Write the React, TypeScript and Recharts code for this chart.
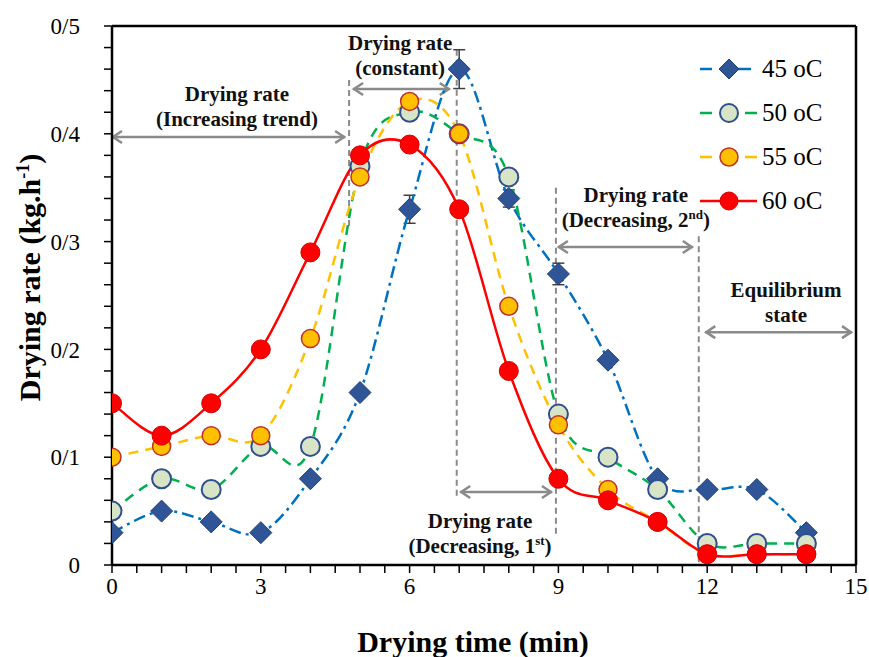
import React from 'react';
import { ComposedChart, Line, XAxis, YAxis, ReferenceLine, ReferenceDot, ErrorBar, Legend, Label } from 'recharts';

// ---------- data ----------
const times = [0, 1, 2, 3, 4, 5, 6, 7, 8, 9, 10, 11, 12, 13, 14];
const rate45 = [0.03, 0.05, 0.04, 0.03, 0.08, 0.16, 0.33, 0.46, 0.34, 0.27, 0.19, 0.08, 0.07, 0.07, 0.03];
const err45 = [0, 0, 0, 0, 0, 0, 0.013, 0.018, 0.008, 0.01, 0, 0, 0, 0, 0];
const rate50 = [0.05, 0.08, 0.07, 0.11, 0.11, 0.37, 0.42, 0.40, 0.36, 0.14, 0.10, 0.07, 0.02, 0.02, 0.02];
const rate55 = [0.10, 0.11, 0.12, 0.12, 0.21, 0.36, 0.43, 0.40, 0.24, 0.13, 0.07, 0.04, 0.01, 0.01, 0.01];
const rate60 = [0.15, 0.12, 0.15, 0.20, 0.29, 0.38, 0.39, 0.33, 0.18, 0.08, 0.06, 0.04, 0.01, 0.01, 0.01];
const seriesNames = ['45 oC', '50 oC', '55 oC', '60 oC'];

const xTicks = [0, 0.5, 1, 1.5, 2, 2.5, 3, 3.5, 4, 4.5, 5, 5.5, 6, 6.5, 7, 7.5, 8, 8.5, 9, 9.5, 10, 10.5, 11, 11.5, 12, 12.5, 13, 13.5, 14, 14.5, 15];
const xTickLabels = [0, 3, 6, 9, 12, 15];
const yTicks = [0, 0.02, 0.04, 0.06, 0.08, 0.1, 0.12, 0.14, 0.16, 0.18, 0.2, 0.22, 0.24, 0.26, 0.28, 0.3, 0.32, 0.34, 0.36, 0.38, 0.4, 0.42, 0.44, 0.46, 0.48, 0.5];
const yMajorTicks = [0, 0.1, 0.2, 0.3, 0.4, 0.5];
const yTickLabels = ['0', '0/1', '0/2', '0/3', '0/4', '0/5'];

// phase boundaries (dashed verticals)
const boundX = [4.78, 6.95, 8.95, 11.83];
const boundTop = [0.45, 0.478, 0.35, 0.305];
const boundBottom = [0.313, 0.063, 0.026, 0];

// double-headed arrows
const arrowY = [0.397, 0.4416, 0.0677, 0.295, 0.216];
const arrowFrom = [0, 4.86, 7.02, 8.99, 11.96];
const arrowTo = [4.70, 6.81, 8.87, 11.71, 14.92];

// annotation texts
const annX = [2.52, 5.81, 7.42, 10.56, 13.59];
const annY = [0.4304, 0.4777, 0.0343, 0.3367, 0.2486];
const annLine1 = ['Drying rate', 'Drying rate', 'Drying rate', 'Drying rate', 'Equilibrium'];
const annLine2 = ['(Increasing trend)', '(constant)', '(Decreasing, 1', '(Decreasing, 2', 'state'];
const annSup = ['', '', 'st', 'nd', ''];

const data = times.map((t, i) => ({
  t,
  s45: rate45[i],
  e45: err45[i],
  s50: rate50[i],
  s55: rate55[i],
  s60: rate60[i],
}));

// ---------- styles ----------
const FONT = '"Liberation Serif", "Times New Roman", serif';
const C45 = '#0070C0';
const C50 = '#00B050';
const C55 = '#FFC000';
const C60 = '#FF0000';
const GRAY = '#8a8a8a';

// Catmull-Rom style smoothing (Excel-like smoothed line)
const smoothCurve: any = (context: any) => {
  let pts: number[][] = [];
  return {
    areaStart() {},
    areaEnd() {},
    lineStart() { pts = []; },
    lineEnd() {
      const n = pts.length;
      if (!n) return;
      context.moveTo(pts[0][0], pts[0][1]);
      for (let i = 0; i < n - 1; i++) {
        const p0 = pts[Math.max(i - 1, 0)];
        const p1 = pts[i];
        const p2 = pts[i + 1];
        const p3 = pts[Math.min(i + 2, n - 1)];
        context.bezierCurveTo(
          p1[0] + (p2[0] - p0[0]) / 6, p1[1] + (p2[1] - p0[1]) / 6,
          p2[0] - (p3[0] - p1[0]) / 6, p2[1] - (p3[1] - p1[1]) / 6,
          p2[0], p2[1]
        );
      }
    },
    point(x: number, y: number) { pts.push([+x, +y]); },
  };
};

const Diamond = (p: any) => {
  const { cx, cy } = p;
  if (cx == null || cy == null) return <g key={p.key} />;
  const r = 11;
  return (
    <path key={p.key} d={`M${cx},${cy - r}L${cx + r},${cy}L${cx},${cy + r}L${cx - r},${cy}Z`} fill="#2F5597" stroke="#203F73" strokeWidth={1} />
  );
};
const makeCircle = (fill: string, stroke: string, r: number, sw: number) => (p: any) => {
  const { cx, cy } = p;
  if (cx == null || cy == null) return <g key={p.key} />;
  return <circle key={p.key} cx={cx} cy={cy} r={r} fill={fill} stroke={stroke} strokeWidth={sw} />;
};
const Dot50 = makeCircle('#D8E4C6', '#2F4F8F', 9.5, 2);
const Dot55 = makeCircle('#FFC000', '#C0302A', 9, 1.5);
const Dot60 = makeCircle('#FF0000', '#D80000', 9.5, 1);

const ArrowShape = (p: any) => {
  const { x1, y1, x2, y2 } = p;
  const h = 10, w = 6;
  const left = Math.min(x1, x2), right = Math.max(x1, x2);
  return (
    <g>
      <line x1={left} y1={y1} x2={right} y2={y2} stroke={GRAY} strokeWidth={2.5} />
      <polyline points={`${left + h},${y1 - w} ${left + 1},${y1} ${left + h},${y1 + w}`} fill="none" stroke={GRAY} strokeWidth={2.5} />
      <polyline points={`${right - h},${y2 - w} ${right - 1},${y2} ${right - h},${y2 + w}`} fill="none" stroke={GRAY} strokeWidth={2.5} />
    </g>
  );
};

const makeAnnotation = (i: number) => (p: any) => {
  const { cx, cy } = p;
  if (cx == null || cy == null) return <g />;
  return (
    <text x={cx} y={cy} textAnchor="middle" fontFamily={FONT} fontWeight="bold" fontSize={21} fill="#111">
      <tspan x={cx} y={cy}>{annLine1[i]}</tspan>
      <tspan x={cx} y={cy + 25}>
        {annLine2[i]}
        {annSup[i] ? <tspan dy={-8} fontSize={13}>{annSup[i]}</tspan> : null}
        {annSup[i] ? <tspan dy={8}>)</tspan> : null}
      </tspan>
    </text>
  );
};

const legendItems = [
  { name: seriesNames[0], color: C45, dash: '12 8 3 5 200', marker: 'diamond' },
  { name: seriesNames[1], color: C50, dash: '12 33 12', marker: 'c50' },
  { name: seriesNames[2], color: C55, dash: '12 33 12', marker: 'c55' },
  { name: seriesNames[3], color: C60, dash: undefined, marker: 'c60' },
];

const LegendContent = () => (
  <svg width={170} height={190} style={{ display: 'block' }}>
    {legendItems.map((it, i) => {
      const cy = 24 + i * 44;
      let marker: any = null;
      if (it.marker === 'diamond') marker = <path d={`M34,${cy - 10}L44,${cy}L34,${cy + 10}L24,${cy}Z`} fill="#2F5597" stroke="#203F73" strokeWidth={1} />;
      if (it.marker === 'c50') marker = <circle cx={34} cy={cy} r={9} fill="#D8E4C6" stroke="#2F4F8F" strokeWidth={2} />;
      if (it.marker === 'c55') marker = <circle cx={34} cy={cy} r={9} fill="#FFC000" stroke="#C0302A" strokeWidth={1.5} />;
      if (it.marker === 'c60') marker = <circle cx={34} cy={cy} r={9} fill="#FF0000" stroke="#D80000" strokeWidth={1} />;
      return (
        <g key={it.name}>
          {it.marker === 'diamond' ? (
            <>
              <line x1={5} y1={cy} x2={17} y2={cy} stroke={it.color} strokeWidth={2.5} />
              <line x1={40} y1={cy} x2={56} y2={cy} stroke={it.color} strokeWidth={2.5} />
            </>
          ) : (
            <line x1={5} y1={cy} x2={62} y2={cy} stroke={it.color} strokeWidth={2.5} strokeDasharray={it.dash} />
          )}
          {marker}
          <text x={67} y={cy + 8} fontFamily={FONT} fontSize={25} fill="#000">{it.name}</text>
        </g>
      );
    })}
  </svg>
);

const xTickFmt = (v: number) => (xTickLabels.some((m) => Math.abs(m - v) < 1e-9) ? String(v) : '');
const yTickFmt = (v: number) => {
  const idx = yMajorTicks.findIndex((m) => Math.abs(m - v) < 1e-9);
  return idx >= 0 ? yTickLabels[idx] : '';
};

const YTitle = (p: any) => {
  const vb = p.viewBox || { x: 0, y: 26, width: 112, height: 539 };
  const cx = vb.x + 40;
  const cy = vb.y + vb.height / 2 - 18;
  return (
    <text transform={`translate(${cx},${cy}) rotate(-90)`} textAnchor="middle" fontFamily={FONT} fontWeight="bold" fontSize={30} fill="#000">
      Drying rate (kg.h<tspan dy={-11} fontSize={18}>-1</tspan><tspan dy={11}>)</tspan>
    </text>
  );
};

const XTitle = (p: any) => {
  const vb = p.viewBox || { x: 112, y: 565, width: 744, height: 92 };
  const cx = vb.x + vb.width / 2 - 11;
  const cy = vb.y + 87;
  return (
    <text x={cx} y={cy} textAnchor="middle" fontFamily={FONT} fontWeight="bold" fontSize={30} fill="#000">
      Drying time (min)
    </text>
  );
};

export default function App() {
  const tickStyle = { fontFamily: FONT, fontSize: 23, fill: '#000' };
  return (
    <div style={{ position: 'absolute', left: 0, top: 0, width: 869, height: 657, background: '#fff' }}>
      <ComposedChart width={869} height={657} data={data} margin={{ top: 26, right: 13, bottom: 0, left: 0 }}>
        <XAxis
          dataKey="t"
          type="number"
          domain={[0, 15]}
          ticks={xTicks}
          interval={0}
          tickFormatter={xTickFmt}
          tick={tickStyle}
          tickSize={8}
          tickMargin={5}
          height={92}
          axisLine={{ stroke: '#000', strokeWidth: 2.5 }}
          tickLine={{ stroke: '#000', strokeWidth: 1.5 }}
          allowDataOverflow
        >
          <Label content={XTitle} />
        </XAxis>
        <YAxis
          type="number"
          domain={[0, 0.5]}
          ticks={yTicks}
          interval={0}
          tickFormatter={yTickFmt}
          tick={tickStyle}
          tickSize={8}
          tickMargin={24}
          width={112}
          axisLine={{ stroke: '#000', strokeWidth: 2.5 }}
          tickLine={{ stroke: '#000', strokeWidth: 1.5 }}
          allowDataOverflow
        >
          <Label content={YTitle} />
        </YAxis>

        <ReferenceLine y={0.5} stroke="#000" strokeWidth={2.5} ifOverflow="visible" />
        <ReferenceLine x={15} stroke="#000" strokeWidth={2.5} ifOverflow="visible" />

        {boundX.map((bx, i) => (
          <ReferenceLine
            key={`b${i}`}
            segment={[{ x: bx, y: boundTop[i] }, { x: bx, y: boundBottom[i] }]}
            stroke={GRAY}
            strokeWidth={2}
            strokeDasharray="6 4"
            ifOverflow="visible"
          />
        ))}
        {arrowY.map((ay, i) => (
          <ReferenceLine
            key={`a${i}`}
            segment={[{ x: arrowFrom[i], y: ay }, { x: arrowTo[i], y: ay }]}
            shape={ArrowShape}
            ifOverflow="visible"
          />
        ))}
        {annX.map((ax, i) => (
          <ReferenceDot key={`t${i}`} x={ax} y={annY[i]} r={0} shape={makeAnnotation(i)} ifOverflow="visible" />
        ))}

        <Line
          dataKey="s45"
          name={seriesNames[0]}
          type={smoothCurve}
          stroke={C45}
          strokeWidth={2.5}
          strokeDasharray="12 5 3 5"
          dot={Diamond}
          activeDot={false}
          isAnimationActive={false}
        >
          <ErrorBar dataKey="e45" direction="y" width={6} stroke="#404040" strokeWidth={1.5} />
        </Line>
        <Line
          dataKey="s50"
          name={seriesNames[1]}
          type={smoothCurve}
          stroke={C50}
          strokeWidth={2.5}
          strokeDasharray="10 7"
          dot={Dot50}
          activeDot={false}
          isAnimationActive={false}
        />
        <Line
          dataKey="s55"
          name={seriesNames[2]}
          type={smoothCurve}
          stroke={C55}
          strokeWidth={2.5}
          strokeDasharray="10 7"
          dot={Dot55}
          activeDot={false}
          isAnimationActive={false}
        />
        <Line
          dataKey="s60"
          name={seriesNames[3]}
          type={smoothCurve}
          stroke={C60}
          strokeWidth={2.5}
          dot={Dot60}
          activeDot={false}
          isAnimationActive={false}
        />

        <Legend
          layout="vertical"
          verticalAlign="middle"
          align="center"
          content={LegendContent}
          wrapperStyle={{ top: 45, left: 695, width: 170, height: 190 }}
        />
      </ComposedChart>
    </div>
  );
}
